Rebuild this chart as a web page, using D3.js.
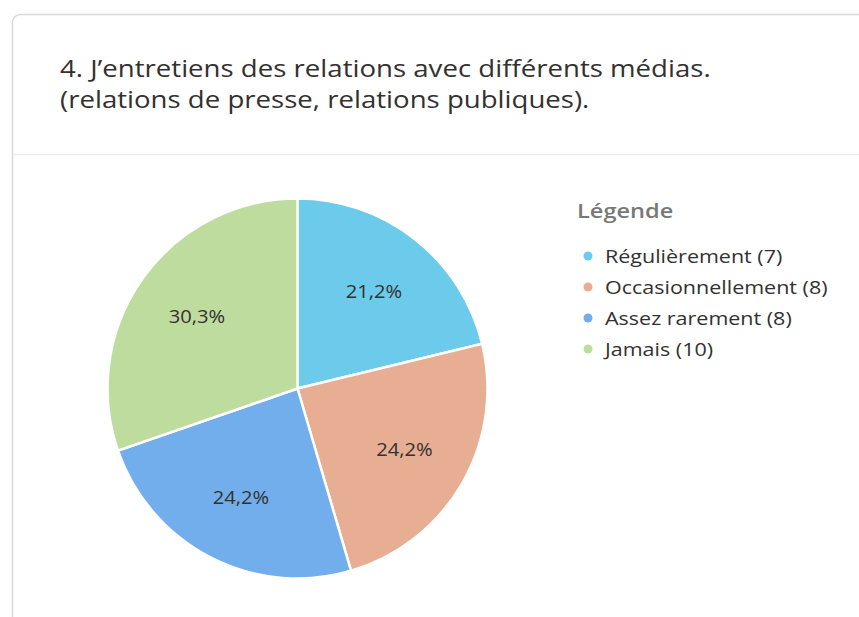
<!DOCTYPE html>
<html><head><meta charset="utf-8">
<script src="https://cdn.jsdelivr.net/npm/d3@7"></script>
<style>
html,body{margin:0;padding:0;background:#fff;}
svg{display:block;}
</style></head>
<body>
<svg id="chart" width="859" height="617"></svg>
<script>
const titleLines = ["4. J\u2019entretiens des relations avec différents médias.", "(relations de presse, relations publiques)."];
const legendTitle = "Légende";
const categories = ["Régulièrement", "Occasionnellement", "Assez rarement", "Jamais"];
const counts = [7, 8, 8, 10];
const colors = ["#6ccbeb", "#e8ae94", "#73aeec", "#bfdc9f"];

const svg = d3.select("#chart");
const font = "'Open Sans', 'Noto Sans', sans-serif";
const sx = 1.15; // horizontal glyph stretch seen in the reference

// card
svg.append("rect").attr("x", 12.5).attr("y", 14.5).attr("width", 900).attr("height", 640)
  .attr("rx", 8).attr("fill", "#fff").attr("stroke", "#dadada").attr("stroke-width", 1.5);
svg.append("line").attr("x1", 13).attr("x2", 859).attr("y1", 154.5).attr("y2", 154.5)
  .attr("stroke", "#ececec").attr("stroke-width", 1.5);

// title
svg.selectAll("g.title").data(titleLines).join("g").attr("class", "title")
  .attr("transform", (d, i) => `translate(60,${77 + i * 31}) scale(${sx},1)`)
  .append("text")
  .attr("font-family", font).attr("font-size", 24).attr("fill", "#323130")
  .text(d => d);

// pie
const cx = 297.5, cy = 388.5, R = 190;
const total = d3.sum(counts);
const pie = d3.pie().sort(null).value(d => d)(counts);
const arc = d3.arc().innerRadius(0).outerRadius(R);
const labelArc = d3.arc().innerRadius(R * 0.65).outerRadius(R * 0.65);
const color = d3.scaleOrdinal().domain(categories).range(colors);
const g = svg.append("g").attr("transform", `translate(${cx},${cy})`);
g.selectAll("path").data(pie).join("path")
  .attr("d", arc).attr("fill", (d, i) => color(categories[i]))
  .attr("stroke", "#fff").attr("stroke-width", 2.5);
const fmt = v => (Math.round(v * 1000) / 10).toFixed(1).replace(".", ",") + "%";
g.selectAll("g.lab").data(pie).join("g").attr("class", "lab")
  .attr("transform", d => `translate(${labelArc.centroid(d)}) scale(${sx},1)`)
  .append("text")
  .attr("text-anchor", "middle").attr("dy", "0.35em")
  .attr("font-family", font).attr("font-size", 17.5).attr("fill", "#323130")
  .text(d => fmt(d.value / total));

// legend
svg.append("g").attr("transform", `translate(577,218) scale(${sx},1)`)
  .append("text").attr("font-family", font)
  .attr("font-size", 20.5).attr("font-weight", 600).attr("fill", "#787878").text(legendTitle);
const lg = svg.selectAll("g.leg").data(categories).join("g").attr("class", "leg")
  .attr("transform", (d, i) => `translate(588,${256 + i * 31})`);
lg.append("circle").attr("r", 4.5).attr("fill", d => color(d));
lg.append("g").attr("transform", `translate(17,0) scale(${sx},1)`)
  .append("text").attr("dy", "0.35em").attr("font-family", font)
  .attr("font-size", 18.7).attr("fill", "#323130")
  .text((d, i) => `${d} (${counts[i]})`);
</script>
</body></html>
